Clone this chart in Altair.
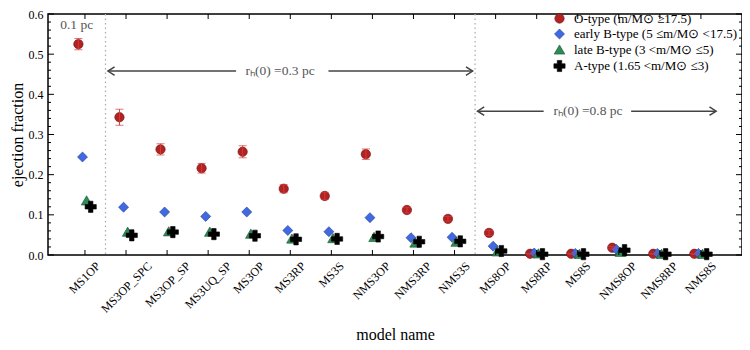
import altair as alt
import pandas as pd

# ---------------- data ----------------
models = ["MS1OP", "MS3OP_SPC", "MS3OP_SP", "MS3UQ_SP", "MS3OP", "MS3RP", "MS3S",
          "NMS3OP", "NMS3RP", "NMS3S", "MS8OP", "MS8RP", "MS8S", "NMS8OP", "NMS8RP", "NMS8S"]
o_type = [0.525, 0.343, 0.263, 0.216, 0.257, 0.165, 0.147, 0.251, 0.112, 0.090,
          0.055, 0.003, 0.003, 0.018, 0.003, 0.003]
o_err = [0.014, 0.020, 0.014, 0.012, 0.015, 0.010, 0.009, 0.013, 0.007, 0.006,
         0.006, 0.001, 0.001, 0.003, 0.001, 0.001]
early_b = [0.244, 0.119, 0.107, 0.096, 0.107, 0.061, 0.058, 0.093, 0.043, 0.044,
           0.022, 0.005, 0.004, 0.014, 0.004, 0.004]
late_b = [0.136, 0.058, 0.059, 0.058, 0.053, 0.041, 0.042, 0.045, 0.031, 0.033,
          0.009, 0.004, 0.003, 0.008, 0.003, 0.003]
a_type = [0.120, 0.049, 0.057, 0.052, 0.048, 0.039, 0.040, 0.046, 0.033, 0.034,
          0.010, 0.002, 0.002, 0.012, 0.002, 0.002]

type_labels = ["O-type (m/M\u2299 \u226517.5)",
               "early B-type (5 \u2264m/M\u2299 <17.5)",
               "late B-type (3 <m/M\u2299 \u22645)",
               "A-type (1.65 <m/M\u2299 \u22643)"]
series = [o_type, early_b, late_b, a_type]

y_ticks = [0.0, 0.1, 0.2, 0.3, 0.4, 0.5, 0.6]
y_minor = [round(i * 0.02, 2) for i in range(31)]
dividers = [0.5, 9.5]
arrow_segments = [(0.56, 3.68, 0.458), (5.93, 9.44, 0.458),
                  (9.56, 11.17, 0.358), (13.3, 15.37, 0.358)]
left_heads = [(0.56, 0.458), (9.56, 0.358)]
right_heads = [(9.44, 0.458), (15.37, 0.358)]
annotations = [(-0.2, 0.572, "0.1 pc"), (4.75, 0.458, "r\u2095(0) =0.3 pc"),
               (12.25, 0.358, "r\u2095(0) =0.8 pc")]

# ---------------- style ----------------
FONT = "Liberation Serif"
W, H = 694, 241
offsets = [-0.16, -0.06, 0.04, 0.14]
fills = ["#b22222", "#4169e1", "#2e8b57", "#000000"]
edges = ["#6e1010", "#1f3b8c", "#17502f", "#000000"]
shapes = ["circle", "diamond", "triangle-up", "cross"]
sizes = [88, 125, 88, 55]

rows = []
for t, (lab, vals) in enumerate(zip(type_labels, series)):
    for i, v in enumerate(vals):
        rows.append({"type": lab, "ord": t, "i": i, "xp": i + offsets[t], "value": v})
df = pd.DataFrame(rows)

err_df = pd.DataFrame({"xp": [i + offsets[0] for i in range(len(models))],
                       "lo": [v - e for v, e in zip(o_type, o_err)],
                       "hi": [v + e for v, e in zip(o_type, o_err)]})

xscale = alt.Scale(domain=[-0.9, 16], nice=False, zero=False)
yscale = alt.Scale(domain=[0, 0.6], nice=False)
X_AX = alt.Axis(labels=False, ticks=False, domain=False, grid=False,
                title="model name", titleFont=FONT, titleFontSize=16,
                titleFontWeight="normal", titleColor="black", titlePadding=71)
Y_AX = alt.Axis(values=y_ticks, format=".1f", ticks=False, domain=False, grid=False,
                labelFont=FONT, labelFontSize=12, labelColor="black", labelPadding=5,
                title="ejection fraction", titleFont=FONT, titleFontSize=16,
                titleFontWeight="normal", titleColor="black", titlePadding=3)
LEG = alt.Legend(orient="none", legendX=505, legendY=-2, title=None,
                 labelFont=FONT, labelFontSize=13, labelColor="black", labelLimit=300,
                 symbolStrokeWidth=0.6, rowPadding=1.5, labelOffset=8, padding=0)


def X(f):
    return alt.X(f, scale=xscale, axis=X_AX)


def Y(f):
    return alt.Y(f, scale=yscale, axis=Y_AX)


points = alt.Chart(df).mark_point(filled=True, opacity=1, strokeWidth=0.6).encode(
    x=X("xp:Q"),
    y=Y("value:Q"),
    fill=alt.Fill("type:N", scale=alt.Scale(domain=type_labels, range=fills), legend=LEG),
    shape=alt.Shape("type:N", scale=alt.Scale(domain=type_labels, range=shapes), legend=LEG),
    size=alt.Size("type:N", scale=alt.Scale(domain=type_labels, range=sizes), legend=LEG),
    stroke=alt.Stroke("type:N", scale=alt.Scale(domain=type_labels, range=edges), legend=LEG),
    order=alt.Order("ord:Q"),
)

err_rule = alt.Chart(err_df).mark_rule(color="#d43a3a", strokeWidth=1).encode(
    x=X("xp:Q"), y=Y("lo:Q"), y2="hi:Q")
err_lo = alt.Chart(err_df).mark_tick(color="#d43a3a", orient="horizontal", size=8, thickness=1).encode(
    x=X("xp:Q"), y=Y("lo:Q"))
err_hi = alt.Chart(err_df).mark_tick(color="#d43a3a", orient="horizontal", size=8, thickness=1).encode(
    x=X("xp:Q"), y=Y("hi:Q"))

div = alt.Chart(pd.DataFrame({"x": dividers})).mark_rule(
    color="#aaaaaa", strokeDash=[1.5, 3], strokeWidth=1.2).encode(x=X("x:Q"))

seg_df = pd.DataFrame(arrow_segments, columns=["x", "x2", "y"])
segs = alt.Chart(seg_df).mark_rule(color="#444444", strokeWidth=1.5).encode(
    x=X("x:Q"), x2="x2:Q", y=Y("y:Q"))
lh = alt.Chart(pd.DataFrame(left_heads, columns=["x", "y"])).mark_point(
    shape="M1.4,-0.9L0,0L1.4,0.9", size=90, filled=False, color="#444444", strokeWidth=1.5,
    opacity=1).encode(x=X("x:Q"), y=Y("y:Q"))
rh = alt.Chart(pd.DataFrame(right_heads, columns=["x", "y"])).mark_point(
    shape="M-1.4,-0.9L0,0L-1.4,0.9", size=90, filled=False, color="#444444", strokeWidth=1.5,
    opacity=1).encode(x=X("x:Q"), y=Y("y:Q"))
ann = alt.Chart(pd.DataFrame(annotations, columns=["x", "y", "t"])).mark_text(
    font=FONT, fontSize=13.5, color="#555555", baseline="middle", align="center").encode(
    x=X("x:Q"), y=Y("y:Q"), text="t:N")

ymaj = pd.DataFrame({"v": y_ticks})
ymin = pd.DataFrame({"v": [v for v in y_minor if abs(v * 10 - round(v * 10)) > 1e-6]})


def ytick(d, x1, x2):
    return alt.Chart(d).mark_rule(color="black", strokeWidth=1).encode(
        y=Y("v:Q"), x=alt.value(x1), x2=alt.value(x2))


xt = pd.DataFrame({"i": list(range(len(models)))})


def xtick(y1, y2):
    return alt.Chart(xt).mark_rule(color="black", strokeWidth=1).encode(
        x=X("i:Q"), y=alt.value(y1), y2=alt.value(y2))


ticks = [ytick(ymaj, 0, 6), ytick(ymin, 0, 3), ytick(ymaj, W, W - 6), ytick(ymin, W, W - 3),
         xtick(H, H - 5), xtick(0, 5)]

xlabels = alt.Chart(pd.DataFrame({"m": models, "i": list(range(len(models)))})).transform_calculate(
    xl="datum.i + length(datum.m) * 0.0645").mark_text(
    font=FONT, fontSize=12, color="black", angle=315, align="right", baseline="middle").encode(
    x=X("xl:Q"), y=alt.value(H + 9), text="m:N")

chart = alt.layer(points, div, segs, lh, rh, ann, err_rule, err_lo, err_hi, *ticks, xlabels).properties(
    width=W, height=H, autosize="none",
    padding={"left": 40, "top": 6, "right": 0, "bottom": 86},
).configure_view(stroke="black", strokeWidth=1.5)

chart.save("out.html", embed_options={"renderer": "svg", "actions": False})
